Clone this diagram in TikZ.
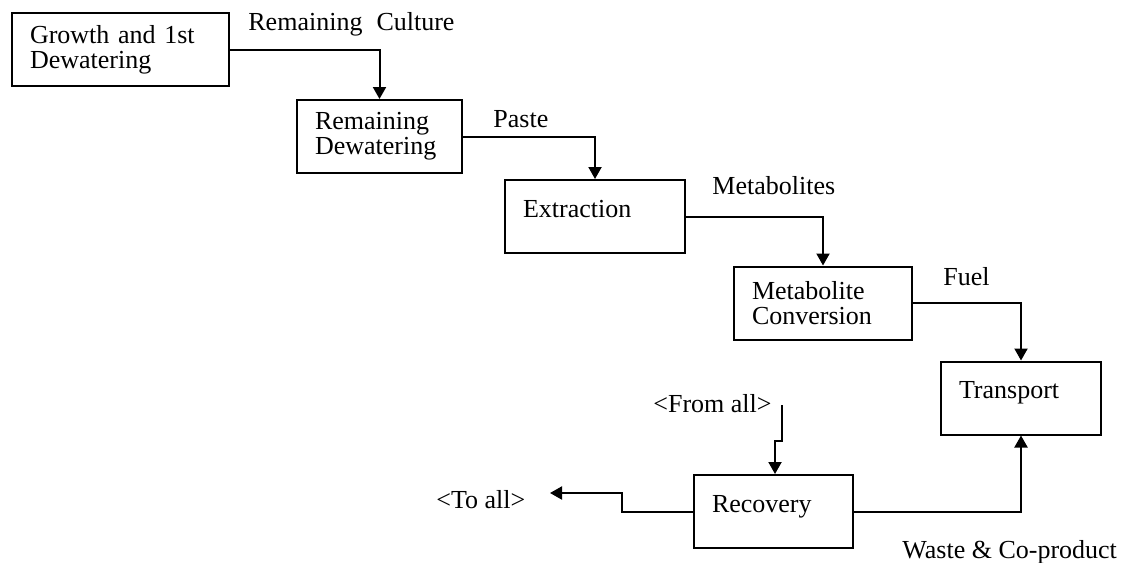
\documentclass[tikz,border=0pt]{standalone}
\usepackage{fontspec}
\setmainfont{Liberation Serif}
\usetikzlibrary{arrows.meta}

\begin{document}
\begin{tikzpicture}[x=0.5pt,y=-0.5pt,font=\fontsize{13}{12.5}\selectfont,
    flow/.style={draw=black,line width=1pt,-{Triangle[length=6pt,width=6.5pt]}}]

    \useasboundingbox (0,0) rectangle (1128,562);

        \begin{scope}[every node/.style={draw=black,line width=1pt,align=left,inner xsep=9pt,minimum height=36.5pt},
                      single/.style={text height=9pt,text depth=8.5pt}]
            \node[text width=90.5pt] (grow) at (120.5,49.5) {Growth and 1st\\Dewatering};
            \node[text width=64.5pt] (rdw) at (379.5,136.5) {Remaining\\Dewatering};
            \node[text width=72pt,single] (ext) at (595,216.5) {Extraction};
            \node[text width=71pt] (mcv) at (823,303) {Metabolite\\Conversion};
            \node[text width=62pt,single] (trn) at (1021,398) {Transport};
            \node[text width=61.5pt,single] (rec) at (773.5,511.5) {Recovery};
        \end{scope}

        \begin{scope}[every node/.style={anchor=base west,inner sep=0pt}]
            \node (cult) at (248,31) {Remaining\hspace{7pt}Culture};
            \node (paste) at (493,127) {Paste};
            \node (metab) at (712,194) {Metabolites};
            \node (fuel) at (943,285) {Fuel};
            \node (fromall) at (653,412) {<From all>};
            \node (toall) at (436,508) {<To all>};
            \node (waste) at (902,558) {Waste \& Co-product};
        \end{scope}

        \coordinate (fa) at (782,405);
        \coordinate (fj) at (775,441);
        \coordinate (tj) at (622,493);
        \coordinate (ta) at (550,493);

        \begin{scope}[every edge/.style={flow,to path={-| (\tikztotarget) \tikztonodes}}]
            \path (grow) edge (rdw);
            \path (rdw) edge (ext);
            \path (ext) edge (mcv);
            \path (mcv) edge (trn);
            \path (rec) edge (trn);
        \end{scope}

        \draw[flow] (fa) |- (fj) -- (fj |- rec.north);
        \draw[flow] (rec) -| (tj) -- (ta);

    \end{tikzpicture}
\end{document}
